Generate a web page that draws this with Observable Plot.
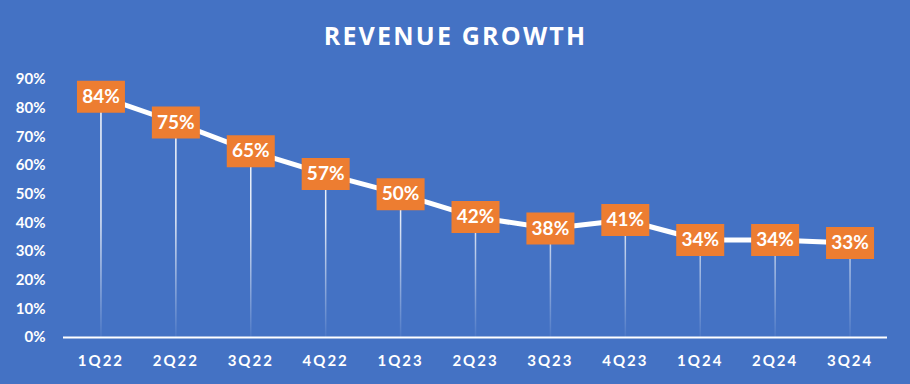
<!DOCTYPE html>
<html>
<head>
<meta charset="utf-8">
<script src="https://cdn.jsdelivr.net/npm/d3@7"></script>
<script src="https://cdn.jsdelivr.net/npm/@observablehq/plot@0.6"></script>
<style>
  html, body { margin: 0; padding: 0; background: #4472C4; }
  #chart { width: 910px; height: 384px; }
  .title-text { letter-spacing: 2.2px; }
  .x-axis text { letter-spacing: 2px; }
</style>
</head>
<body>
<div id="chart"></div>
<script>
const quarters = ["1Q22","2Q22","3Q22","4Q22","1Q23","2Q23","3Q23","4Q23","1Q24","2Q24","3Q24"];
const growth = [84, 75, 65, 57, 50, 42, 38, 41, 34, 34, 33];
const yTicks = [0, 10, 20, 30, 40, 50, 60, 70, 80, 90];
const title = "REVENUE GROWTH";

const data = quarters.map((q, i) => ({q, v: growth[i]}));

const boxSymbol = {
  draw(ctx, size) { ctx.rect(-24, -16, 48, 32); }
};

const plot = Plot.plot({
  width: 910,
  height: 384,
  marginTop: 79,
  marginBottom: 47,
  marginLeft: 63,
  marginRight: 23,
  style: {background: "#4472C4", color: "white", fontFamily: "Lato, 'Open Sans', sans-serif"},
  x: {type: "point", domain: quarters, padding: 0.5, round: false, label: null},
  y: {domain: [0, 90], label: null},
  marks: [
    Plot.axisY({ticks: yTicks, tickSize: 0, tickPadding: 18, tickFormat: d => d + "%", fontSize: 15, fontWeight: "bold", fill: "white", label: null}),
    Plot.axisX({tickSize: 0, tickPadding: 18, fontSize: 15, fontWeight: "bold", fill: "white", label: null, className: "x-axis"}),
    Plot.ruleX(data, {x: "q", y1: 0, y2: "v", stroke: "url(#fade)", strokeWidth: 1.5}),
    Plot.ruleY([0], {stroke: "white", strokeWidth: 2}),
    Plot.line(data, {x: "q", y: "v", stroke: "white", strokeWidth: 5}),
    Plot.dot(data, {x: "q", y: "v", symbol: boxSymbol, fill: "#ED7D31", stroke: "none", r: 10}),
    Plot.text(data, {x: "q", y: "v", text: d => d.v + "%", fill: "white", fontSize: 19, fontWeight: "bold", fontFamily: "Lato, sans-serif"}),
    Plot.text([title], {frameAnchor: "top", lineAnchor: "middle", dx: -20, dy: -43, fill: "white", fontSize: 25, fontWeight: "bold", fontFamily: "'Open Sans', sans-serif", className: "title-text"})
  ]
});

const svg = d3.select(plot);
const defs = svg.insert("defs", ":first-child");
const grad = defs.append("linearGradient")
  .attr("id", "fade")
  .attr("gradientUnits", "userSpaceOnUse")
  .attr("x1", 0).attr("x2", 0).attr("y1", 79).attr("y2", 337);
grad.append("stop").attr("offset", "0%").attr("stop-color", "white").attr("stop-opacity", 1);
grad.append("stop").attr("offset", "55%").attr("stop-color", "white").attr("stop-opacity", 0.85);
grad.append("stop").attr("offset", "100%").attr("stop-color", "white").attr("stop-opacity", 0.05);

document.getElementById("chart").appendChild(plot);
</script>
</body>
</html>
